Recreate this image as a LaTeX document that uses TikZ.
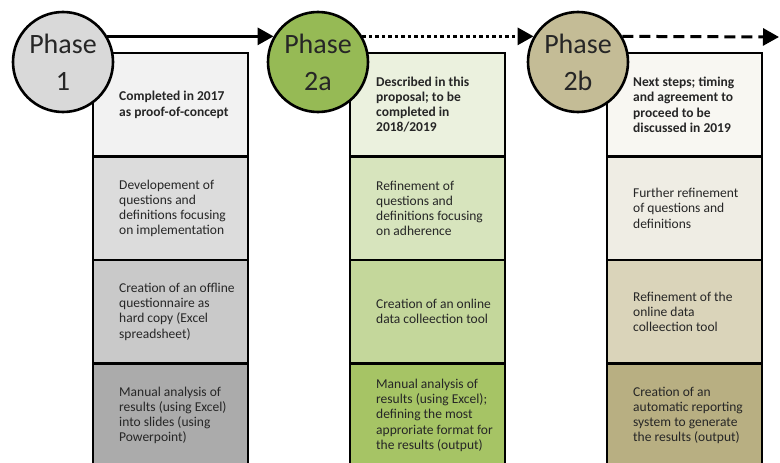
\documentclass[tikz,border=0pt]{standalone}
\usepackage{fontspec}
\setmainfont{Carlito}
\usetikzlibrary{arrows.meta}
\usetikzlibrary{positioning}

\definecolor{greyA}{HTML}{F2F2F2}
\definecolor{greyB}{HTML}{DCDCDC}
\definecolor{greyC}{HTML}{C9C9C9}
\definecolor{greyD}{HTML}{ABABAB}
\definecolor{greyP}{HTML}{D9D9D9}
\definecolor{greenA}{HTML}{EBF1DE}
\definecolor{greenB}{HTML}{D7E4BD}
\definecolor{greenC}{HTML}{C4D79B}
\definecolor{greenD}{HTML}{A6C465}
\definecolor{greenP}{HTML}{96BA55}
\definecolor{tanA}{HTML}{F8F7F2}
\definecolor{tanB}{HTML}{EFEDE4}
\definecolor{tanC}{HTML}{DAD4BA}
\definecolor{tanD}{HTML}{B8AF82}
\definecolor{tanP}{HTML}{C4BC96}
\definecolor{ink}{HTML}{262626}

\begin{document}
\begin{tikzpicture}[>={Triangle[length=16pt,width=17pt]},x=1pt,y=-1pt,
    cell/.style={draw,line width=2.6pt,minimum width=155pt,minimum height=103.5pt,
      outer sep=0pt,inner sep=0pt},
    note/.style={inner sep=0pt,align=left,text=ink,font=\fontsize{13.5}{15.2}\selectfont},
    head/.style={note,font=\fontsize{13.5}{15.2}\selectfont\bfseries},
    phase/.style={circle,draw,line width=2.6pt,minimum size=100pt,inner sep=0pt,
      align=center,text=ink,font=\fontsize{28}{37}\selectfont},
    link/.style={->,line width=3pt}]
    \useasboundingbox (0,0) rectangle (780,463);

    % columns of boxes
    \foreach \col/\x/\ca/\cb/\cc/\cd in {one/93/greyA/greyB/greyC/greyD,
        two/350/greenA/greenB/greenC/greenD, three/607/tanA/tanB/tanC/tanD}{
      \node[cell,fill=\ca,anchor=north west] (\col a) at (\x,53) {};
      \node[cell,fill=\cb,below=0pt of \col a] (\col b) {};
      \node[cell,fill=\cc,below=0pt of \col b] (\col c) {};
      \node[cell,fill=\cd,below=0pt of \col c] (\col d) {};
    }

    \node[head,right=26pt of onea.west] (tonea) {Completed in 2017\\as proof-of-concept};
    \node[note,right=26pt of oneb.west] (toneb) {Developement of\\questions and\\definitions focusing\\on implementation};
    \node[note,right=26pt of onec.west] (tonec) {Creation of an offline\\questionnaire as\\hard copy (Excel\\spreadsheet)};
    \node[note,right=26pt of oned.west] (toned) {Manual analysis of\\results (using Excel)\\into slides (using\\Powerpoint)};

    \node[head,right=26pt of twoa.west] (ttwoa) {Described in this\\proposal; to be\\completed in\\2018/2019};
    \node[note,right=26pt of twob.west] (ttwob) {Refinement of\\questions and\\definitions focusing\\on adherence};
    \node[note,right=26pt of twoc.west] (ttwoc) {Creation of an online\\data colleection tool};
    \node[note,right=26pt of twod.west] (ttwod) {Manual analysis of\\results (using Excel);\\defining the most\\approriate format for\\the results (output)};

    \node[head,right=26pt of threea.west] (tthreea) {Next steps; timing\\and agreement to\\proceed to be\\discussed in 2019};
    \node[note,right=26pt of threeb.west] (tthreeb) {Further refinement\\of questions and\\definitions};
    \node[note,right=26pt of threec.west] (tthreec) {Refinement of the\\online data\\colleection tool};
    \node[note,right=26pt of threed.west] (tthreed) {Creation of an\\automatic reporting\\system to generate\\the results (output)};

    % phases
    \node[phase,fill=greyP] (p1) at (63,62) {Phase\\1};
    \node[phase,fill=greenP] (p2a) at (318,62) {Phase\\2a};
    \node[phase,fill=tanP] (p2b) at (578,62) {Phase\\2b};
    \coordinate (next) at (779,37);

    \draw[link] (p1.30) -- (p2a.150);
    \draw[link,dash pattern=on 3.5pt off 3pt] (p2a.30) -- (p2b.150);
    \draw[link,dash pattern=on 11pt off 6pt] (p2b.30) -- (next);
\end{tikzpicture}
\end{document}
